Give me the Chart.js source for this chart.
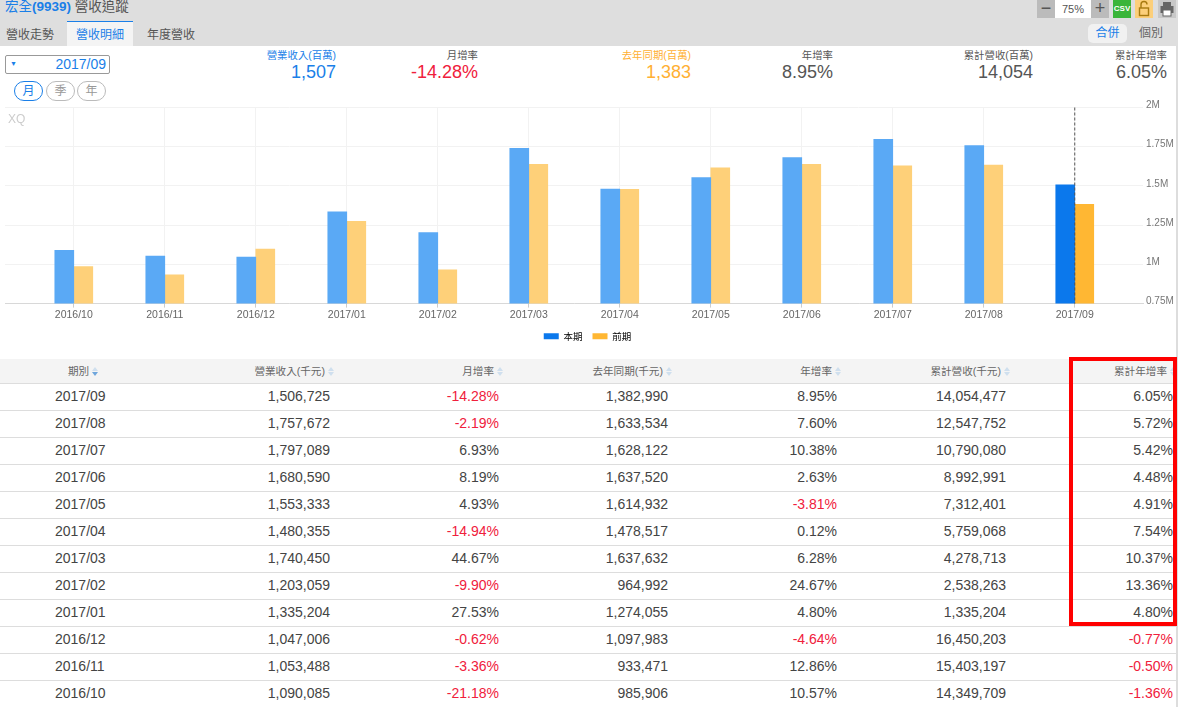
<!DOCTYPE html>
<html>
<head>
<meta charset="utf-8">
<script src="https://cdn.jsdelivr.net/npm/chart.js@4"></script>
<style>
html,body{margin:0;padding:0;background:#fff;overflow:hidden}
body{width:1178px;height:707px;position:relative;font-family:"Liberation Sans","Noto Sans CJK TC",sans-serif;color:#444}
.abs{position:absolute;white-space:nowrap}
#head{left:0;top:0;width:1178px;height:46px;background:#dedede}
.tab{top:21px;height:25px;line-height:28px;font-size:12px;color:#555;text-align:center}
.stat{text-align:right;width:150px}
.stat .l{font-size:10.4px;line-height:16px}
.stat .v{font-size:18px;line-height:22px;margin-top:-3px}
.rb{top:81px;height:18px;line-height:18px;width:27px;border:1px solid #bbb;border-radius:10px;font-size:12px;text-align:center;color:#999}
.ic{top:0;height:18px}
canvas{position:absolute;left:0;top:95px}
table{position:absolute;left:0;top:359px;width:1178px;border-collapse:collapse;table-layout:fixed}
th{height:24px;padding:0 1px 0 0;background:#f4f4f4;font-weight:normal;font-size:10.6px;color:#666;text-align:right;border-bottom:1px solid #ddd;box-sizing:border-box}
td{height:27px;padding:0 5px 2px 0;font-size:14px;color:#444;text-align:right;border-bottom:1px solid #ddd;box-sizing:border-box}
th:first-child{text-align:center;padding:0}
th:last-child{padding-right:2px}
td:first-child{text-align:left;padding-left:55px}
.neg{color:#f0203c}
.sort{display:inline-block;width:6px;height:9px;margin-left:3px;vertical-align:-1px;position:relative}
.sort:before,.sort:after{content:"";position:absolute;left:0;border-left:3px solid transparent;border-right:3px solid transparent}
.sort:before{top:0;border-bottom:4px solid #cfdfee}
.sort:after{bottom:0;border-top:4px solid #cfdfee}
.sort.on:after{border-top-color:#6fa6dc}
#box{left:1069px;top:357px;width:100px;height:261px;border:4px solid #f00}
#edge{left:1176px;top:46px;width:2px;height:661px;background:#ddd}
</style>
</head>
<body>
<div class="abs" id="head"></div>
<div class="abs" style="left:5px;top:-2px;font-size:13.5px;line-height:18px;color:#555"><span style="color:#1a7fe8">宏全<b>(9939)</b></span> 營收追蹤</div>
<div class="abs tab" style="left:0;width:60px">營收走勢</div>
<div class="abs tab" style="left:67px;width:66px;background:#f4f4f4;border-top:1px solid #1a7fe8;height:24px;line-height:26px;color:#1a7fe8">營收明細</div>
<div class="abs tab" style="left:142px;width:58px">年度營收</div>
<div class="abs" style="left:1088px;top:24px;width:39px;height:19px;line-height:19px;background:#f1f1f1;border-radius:5px;font-size:12px;color:#1a7fe8;text-align:center">合併</div>
<div class="abs" style="left:1136px;top:24px;width:30px;line-height:19px;font-size:12px;color:#666;text-align:center">個別</div>
<div class="abs ic" style="left:1037px;width:18px;background:#bbb;color:#555;font-size:18px;line-height:16px;text-align:center">−</div>
<div class="abs ic" style="left:1055px;width:36px;background:#fff;font-size:11px;line-height:18px;text-align:center;color:#555">75%</div>
<div class="abs ic" style="left:1091px;width:18px;background:#bbb;color:#555;font-size:18px;line-height:16px;text-align:center">+</div>
<div class="abs ic" style="left:1113px;width:18px;background:#3ab53a;color:#fff;font-size:8px;font-weight:bold;line-height:18px;text-align:center">CSV</div>
<div class="abs ic" style="left:1135px;width:18px;background:#fccf7a"><svg width="18" height="18"><rect x="4.5" y="8" width="9" height="7.5" fill="none" stroke="#a87a10" stroke-width="1.4"/><path d="M6 8V4.5a3 3 0 0 1 6 0" fill="none" stroke="#a87a10" stroke-width="1.4"/></svg></div>
<div class="abs ic" style="left:1158px;width:18px;background:#c8c8c8"><svg width="18" height="18"><rect x="2.5" y="6" width="13" height="7" fill="#666"/><rect x="5" y="2" width="8" height="4" fill="#666"/><rect x="5" y="10" width="8" height="6" fill="#fff" stroke="#666"/></svg></div>

<div class="abs" style="left:5px;top:55px;width:103px;height:17px;border:1px solid #999;border-radius:2px;font-size:14px;line-height:17px;color:#1a7fe8;text-align:right"><span style="position:absolute;left:4px;top:-1px;font-size:7px">▼</span><span style="padding-right:3px">2017/09</span></div>
<div class="abs rb" style="left:14px;border-color:#1a7fe8;color:#1a7fe8">月</div>
<div class="abs rb" style="left:46px">季</div>
<div class="abs rb" style="left:77px">年</div>

<div id="stats"></div>
<canvas id="revChart" width="1178" height="256" style="width:1178px;height:256px"></canvas>
<div class="abs" style="left:8px;top:112px;font-size:12px;color:#ccc">XQ</div>
<table id="tbl"></table>
<div class="abs" id="edge"></div>
<div class="abs" id="box"></div>

<script>
var categories = ['2016/10','2016/11','2016/12','2017/01','2017/02','2017/03','2017/04','2017/05','2017/06','2017/07','2017/08','2017/09'];
var current = [1090085,1053488,1047006,1335204,1203059,1740450,1480355,1553333,1680590,1797089,1757672,1506725];
var previous = [985906,933471,1097983,1274055,964992,1637632,1478517,1614932,1637520,1628122,1633534,1382990];
var monthRate = [-21.18,-3.36,-0.62,27.53,-9.90,44.67,-14.94,4.93,8.19,6.93,-2.19,-14.28];
var yearRate = [10.57,12.86,-4.64,4.80,24.67,6.28,0.12,-3.81,2.63,10.38,7.60,8.95];
var cumulative = [14349709,15403197,16450203,1335204,2538263,4278713,5759068,7312401,8992991,10790080,12547752,14054477];
var cumRate = [-1.36,-0.50,-0.77,4.80,13.36,10.37,7.54,4.91,4.48,5.42,5.72,6.05];
var yTicks = [750000,1000000,1250000,1500000,1750000,2000000];
var headers = ['期別','營業收入(千元)','月增率','去年同期(千元)','年增率','累計營收(千元)','累計年增率'];
var colWidths = [166,169,169,169,169,169,167];
var stats = [
  ['營業收入(百萬)','1,507',336,'#1a7fe8','#1a7fe8'],
  ['月增率','-14.28%',478,'#555','#f0203c'],
  ['去年同期(百萬)','1,383',691,'#ffb033','#ffb033'],
  ['年增率','8.95%',833,'#555','#555'],
  ['累計營收(百萬)','14,054',1033,'#555','#555'],
  ['累計年增率','6.05%',1167,'#555','#555']
];

// 上方摘要
stats.forEach(function (s) {
  var d = document.createElement('div');
  d.className = 'abs stat';
  d.style.left = (s[2] - 150) + 'px';
  d.style.top = '48px';
  d.innerHTML = '<div class="l" style="color:' + s[3] + '">' + s[0] + '</div><div class="v" style="color:' + s[4] + '">' + s[1] + '</div>';
  document.body.appendChild(d);
});

// 表格
function pct(v) {
  return '<td' + (v < 0 ? ' class="neg"' : '') + '>' + v.toFixed(2) + '%</td>';
}
function num(v) {
  return '<td>' + v.toLocaleString('en-US') + '</td>';
}
var html = '<colgroup>' + colWidths.map(function (w) { return '<col style="width:' + w + 'px">'; }).join('') + '</colgroup><tr>';
headers.forEach(function (h, i) {
  html += '<th>' + h + '<span class="sort' + (i === 0 ? ' on' : '') + '"></span></th>';
});
html += '</tr>';
for (var i = categories.length - 1; i >= 0; i--) {
  html += '<tr><td>' + categories[i] + '</td>' + num(current[i]) + pct(monthRate[i]) + num(previous[i]) + pct(yearRate[i]) + num(cumulative[i]) + pct(cumRate[i]) + '</tr>';
}
document.getElementById('tbl').innerHTML = html;

// 選取月份的虛線
var cursorLine = {
  id: 'cursorLine',
  afterLayout: function (chart) {
    // 圖例置中於 585 附近，不是整張畫布的中央
    chart.legend.right = chart.legend.right - 8;
  },
  afterDatasetsDraw: function (chart) {
    var x = chart.scales.x.getPixelForValue(categories.length - 1);
    var c = chart.ctx;
    c.save();
    c.strokeStyle = '#555';
    c.setLineDash([3, 2]);
    c.beginPath();
    c.moveTo(x, chart.chartArea.top);
    c.lineTo(x, chart.chartArea.bottom);
    c.stroke();
    c.restore();
  }
};

function barColors(light, dark) {
  return categories.map(function (c, i) { return i === categories.length - 1 ? dark : light; });
}
function toPoints(arr) {
  return arr.map(function (v, i) { return { x: i, y: v }; });
}

new Chart(document.getElementById('revChart').getContext('2d'), {
  type: 'bar',
  data: {
    datasets: [
      { label: '本期', data: toPoints(current), backgroundColor: barColors('#5aa9f5', '#0b78ec'), barThickness: 19 },
      { label: '前期', data: toPoints(previous), backgroundColor: barColors('#fed079', '#ffb733'), barThickness: 19 }
    ]
  },
  plugins: [cursorLine],
  options: {
    responsive: false,
    animation: false,
    layout: { padding: { left: 5, top: 12.5 } },
    scales: {
      x: {
        type: 'linear',
        offset: false,
        min: -0.756,
        max: 11.75,
        afterBuildTicks: function (scale) {
          scale.ticks = categories.map(function (c, i) { return { value: i }; });
        },
        afterFit: function (scale) { scale.height = 17.9; },
        grid: { color: '#f2f2f2', tickColor: '#ccc', tickLength: 4, offset: false },
        border: { color: '#d8d8d8' },
        ticks: {
          autoSkip: false,
          maxRotation: 0,
          color: '#666',
          font: { size: 10.5, family: '"Liberation Sans"' },
          padding: 1,
          callback: function (v) { return categories[v]; }
        }
      },
      y: {
        position: 'right',
        min: 750000,
        max: 2000000,
        afterBuildTicks: function (scale) {
          scale.ticks = yTicks.map(function (v) { return { value: v }; });
        },
        afterFit: function (scale) { scale.width = 35; },
        grid: { color: '#f2f2f2', drawTicks: false },
        border: { display: false },
        ticks: {
          autoSkip: false,
          color: '#777',
          font: { size: 10, lineHeight: '4px', family: '"Liberation Sans"' },
          padding: 3,
          // 空白第二行讓標籤略高於格線
          callback: function (v) { return [(v / 1000000) + 'M', '']; }
        }
      }
    },
    plugins: {
      tooltip: { enabled: false },
      legend: {
        position: 'bottom',
        labels: {
          boxWidth: 15,
          boxHeight: 6,
          padding: 10,
          color: '#777',
          font: { size: 9.5, family: '"Noto Sans CJK TC"' },
          generateLabels: function () {
            return [
              { text: '本期', fillStyle: '#0b78ec', strokeStyle: '#0b78ec', lineWidth: 0, datasetIndex: 0 },
              { text: '前期', fillStyle: '#ffb733', strokeStyle: '#ffb733', lineWidth: 0, datasetIndex: 1 }
            ];
          }
        }
      }
    }
  }
});
</script>
</body>
</html>
